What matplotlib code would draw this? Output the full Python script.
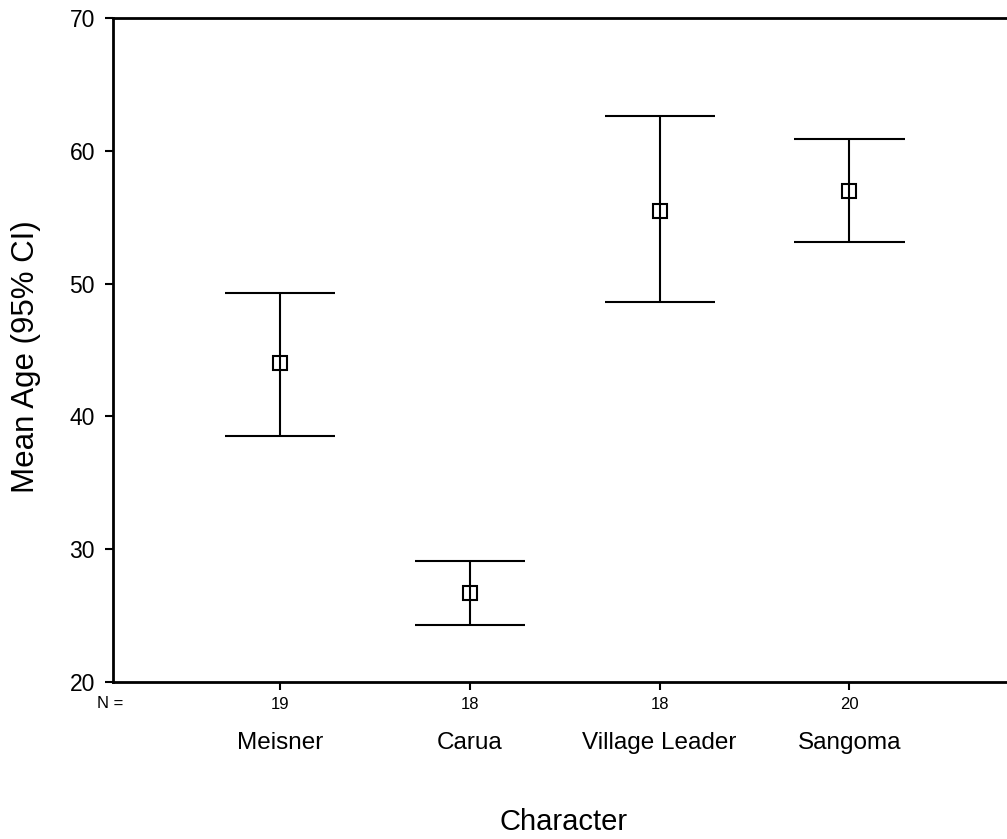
import numpy as np
import matplotlib.pyplot as plt
from matplotlib.transforms import blended_transform_factory

plt.rcParams["font.family"] = ["Liberation Sans", "DejaVu Sans"]

categories = ["Meisner", "Carua", "Village Leader", "Sangoma"]
n_counts = [19, 18, 18, 20]
means = [44.0, 26.7, 55.5, 57.0]
ci_low = [38.5, 24.3, 48.6, 53.1]
ci_high = [49.3, 29.1, 62.6, 60.9]

W, H = 1007, 839
fig = plt.figure(figsize=(W / 100, H / 100), dpi=100)
ax = fig.add_axes([113 / W, 1 - 682 / H, (W - 113) / W, (682 - 18) / H])

x = np.arange(1, len(categories) + 1)
cap = 0.29
ax.vlines(x, ci_low, ci_high, color="black", lw=1.5)
ax.hlines(ci_low, x - cap, x + cap, color="black", lw=1.5)
ax.hlines(ci_high, x - cap, x + cap, color="black", lw=1.5)
ax.plot(x, means, ls="none", marker="s", ms=10.5, mfc="none", mec="black", mew=1.5, zorder=3)

ax.set_xlim(0.12, 4.83)
ax.set_ylim(20, 70)
ax.set_yticks([20, 30, 40, 50, 60, 70])
ax.set_xticks(x)
ax.set_xticklabels([str(n) for n in n_counts], fontsize=12)
ax.tick_params(axis="y", direction="out", length=6, width=1.5, labelsize=16.5, pad=7)
ax.tick_params(axis="x", direction="out", length=6, width=1.5, pad=5)
for s in ["left", "top", "bottom"]:
    ax.spines[s].set_linewidth(2)
ax.spines["right"].set_visible(False)

trans = blended_transform_factory(ax.transData, ax.transAxes)
for xi, name in zip(x, categories):
    ax.text(xi, -61 / 664, name, transform=trans, ha="center", va="center", fontsize=17.5)
ax.text(110 / W, 1 - 704 / H, "N =", transform=fig.transFigure, ha="center", va="center", fontsize=12)

fig.text(564 / W, 1 - 822 / H, "Character", ha="center", va="center", fontsize=21)
fig.text(26 / W, 1 - 357 / H, "Mean Age (95% CI)", ha="center", va="center", rotation=90, fontsize=22.5)

fig.savefig("out.png", dpi=100)
